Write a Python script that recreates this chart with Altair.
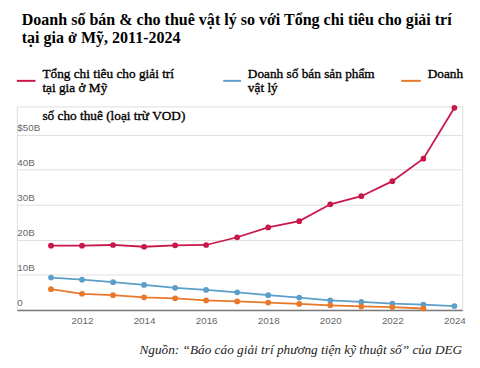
import altair as alt
import pandas as pd

years = list(range(2011, 2025))
total_home = [18.3, 18.3, 18.5, 18.0, 18.4, 18.5, 20.7, 23.5, 25.3, 30.1, 32.4, 36.7, 43.1, 57.6]
physical_sales = [9.2, 8.6, 7.9, 7.1, 6.3, 5.7, 5.0, 4.2, 3.5, 2.7, 2.3, 1.8, 1.5, 1.1]
rental_years = list(range(2011, 2024))
rental = [5.9, 4.6, 4.2, 3.6, 3.3, 2.7, 2.4, 2.1, 1.7, 1.3, 1.0, 0.8, 0.4]

series_names = ["total", "sales", "rental"]
series_colors = ["#c8174a", "#5b9ec9", "#e8782a"]

rows = []
for y, v in zip(years, total_home):
    rows.append({"year": y, "value": v, "series": "total"})
for y, v in zip(years, physical_sales):
    rows.append({"year": y, "value": v, "series": "sales"})
for y, v in zip(rental_years, rental):
    rows.append({"year": y, "value": v, "series": "rental"})
df = pd.DataFrame(rows)

title_lines = ["Doanh số bán & cho thuê vật lý so với Tổng chi tiêu cho giải trí",
               "tại gia ở Mỹ, 2011-2024"]
legend_total = ["Tổng chi tiêu cho giải trí", "tại gia ở Mỹ"]
legend_sales = ["Doanh số bán sản phẩm", "vật lý"]
legend_rental = ["Doanh", "số cho thuê (loại trừ VOD)"]
source_text = "Nguồn: “Báo cáo giải trí phương tiện kỹ thuật số” của DEG"

SERIF = "Liberation Serif"
W, H = 453, 207
color_scale = alt.Scale(domain=series_names, range=series_colors)

x_enc = alt.X("year:Q", scale=alt.Scale(domain=[2009.9, 2024.25], nice=False, zero=False),
              axis=alt.Axis(values=[2012, 2014, 2016, 2018, 2020, 2022, 2024], format="d",
                            title=None, grid=False, ticks=False, labelPadding=6,
                            domainColor="#7a7a7a", domainWidth=1.5,
                            labelColor="#666666", labelFontSize=10, labelFont="Liberation Sans"))
y_enc = alt.Y("value:Q", scale=alt.Scale(domain=[0, 58], nice=False),
              axis=alt.Axis(values=[0, 10, 20, 30, 40, 50], title=None, domain=False, ticks=False,
                            labelAlign="left", labelBaseline="alphabetic", labelPadding=0, labelOffset=-4,
                            labelExpr="datum.value == 50 ? '$50B' : (datum.value == 0 ? '0' : datum.value + 'B')",
                            gridColor="#dedede", gridWidth=1,
                            labelColor="#666666", labelFontSize=10, labelFont="Liberation Sans"))

base = alt.Chart(df)
lines = base.mark_line(strokeWidth=1.8).encode(
    x=x_enc, y=y_enc, color=alt.Color("series:N", scale=color_scale, legend=None), detail="series:N")
points = base.mark_circle(size=34, opacity=1).encode(
    x="year:Q", y="value:Q", color=alt.Color("series:N", scale=color_scale, legend=None))


def txt(t, x, y, size, weight="normal", style="normal", align="left", color="#000000", stroke=0.0):
    kw = dict(align=align, baseline="alphabetic", font=SERIF, fontSize=size,
              fontWeight=weight, fontStyle=style, color=color)
    if stroke > 0:
        kw.update(stroke=color, strokeWidth=stroke)
    return alt.Chart(pd.DataFrame({"t": [t]})).mark_text(**kw).encode(
        x=alt.value(x), y=alt.value(y), text="t:N")


def rule(x1, x2, y, color):
    return alt.Chart(pd.DataFrame({"a": [0]})).mark_rule(color=color, strokeWidth=2).encode(
        x=alt.value(x1), x2=alt.value(x2), y=alt.value(y))


layers = [lines, points]
layers.append(txt(title_lines[0], 5, -83, 16.3, weight="bold"))
layers.append(txt(title_lines[1], 5, -65, 16.3, weight="bold"))
layers.append(rule(0, 19, -26, series_colors[0]))
layers.append(rule(210, 228, -26, series_colors[1]))
layers.append(rule(391, 411, -26, series_colors[2]))
layers.append(txt(legend_total[0], 26, -29, 13.5, stroke=0.35))
layers.append(txt(legend_total[1], 26, -15, 13.5, stroke=0.35))
layers.append(txt(legend_sales[0], 235, -29, 13.5, stroke=0.35))
layers.append(txt(legend_sales[1], 235, -15, 13.5, stroke=0.35))
layers.append(txt(legend_rental[0], 418, -29, 13.5, stroke=0.35))
layers.append(txt(legend_rental[1], 26, 14, 13.5, stroke=0.35))
layers.append(txt(source_text, 453, 252, 13.5, style="italic", align="right", color="#222222"))

chart = alt.layer(*layers).properties(
    width=W, height=H,
    autosize=alt.AutoSizeParams(type="none"),
    padding={"left": 9, "top": 97, "right": 10, "bottom": 56},
).configure_view(stroke=None).configure(background="white")

chart.save("out.html", embed_options={"renderer": "svg", "actions": False})
